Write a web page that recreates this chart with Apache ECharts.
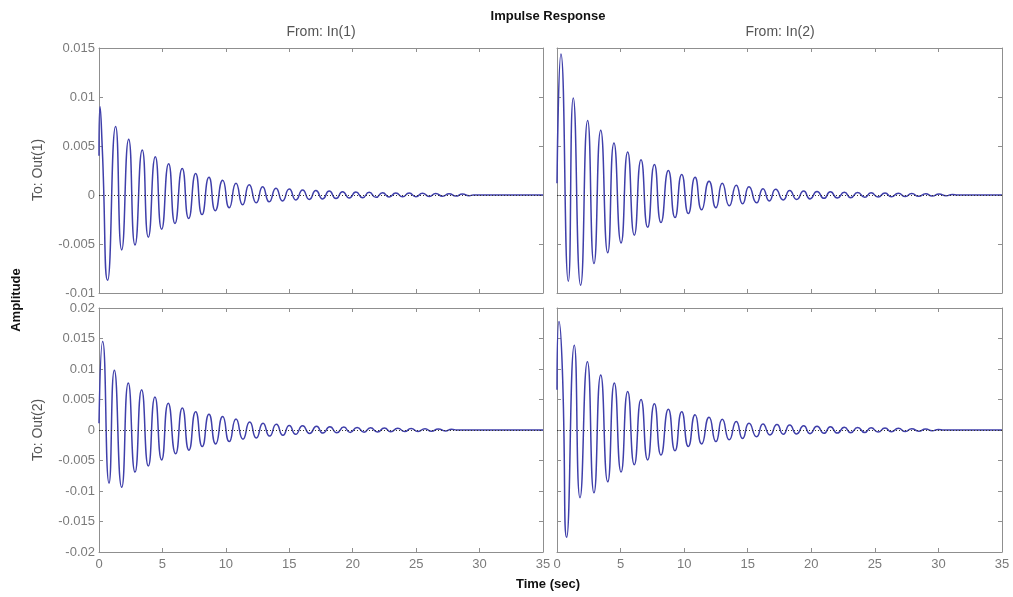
<!DOCTYPE html>
<html>
<head>
<meta charset="utf-8">
<script src="https://cdn.jsdelivr.net/npm/echarts@6/dist/echarts.min.js"></script>
<style>html,body{margin:0;padding:0;background:#fff;}#c{width:1013px;height:597px;}</style>
</head>
<body>
<div id="c"></div>
<script>
// Extrema: [time (sec), amplitude]
const in1out1 = [[0,0.0040],[0.08,0.0090],[0.26,0.0047],[0.68,-0.0087],[1.31,0.0070],[1.79,-0.0056],[2.34,0.0057],[2.84,-0.0051],[3.41,0.0046],[3.89,-0.0043],[4.44,0.0039],[4.94,-0.0035],[5.49,0.0032],[5.99,-0.0029],[6.56,0.0027],[7.07,-0.0024],[7.62,0.0022],[8.12,-0.0020],[8.67,0.0018],[9.17,-0.0016],[9.75,0.0015],[10.27,-0.0013],[10.8,0.0012],[11.32,-0.0010],[11.84,0.00105],[12.4,-0.0008],[12.9,0.00085],[13.42,-0.0007],[13.95,0.0007],[14.47,-0.0006],[15.0,0.0006],[15.52,-0.0005],[16.05,0.00052],[16.58,-0.00045],[17.1,0.00045],[17.63,-0.0004],[18.15,0.0004],[18.68,-0.00036],[19.2,0.00034],[19.73,-0.0003],[20.25,0.0003],[20.78,-0.00027],[21.3,0.00028],[21.83,-0.00024],[22.35,0.00024],[22.88,-0.0002],[23.4,0.00021],[23.93,-0.00018],[24.45,0.0002],[24.98,-0.00017],[25.5,0.00018],[26.03,-0.00015],[26.55,0.00015],[27.08,-0.00013],[27.6,0.00013],[28.13,-0.00011],[28.65,0.0001],[29.18,-0.00008],[29.5,0],[35,0]];
const in2out1 = [[0,0.0012],[0.31,0.0144],[0.89,-0.0088],[1.28,0.0099],[1.86,-0.0092],[2.41,0.0076],[2.91,-0.0070],[3.44,0.0066],[3.99,-0.0059],[4.48,0.0053],[5.04,-0.0049],[5.56,0.0044],[6.08,-0.0041],[6.61,0.0036],[7.13,-0.0033],[7.66,0.0031],[8.18,-0.0028],[8.76,0.0025],[9.28,-0.0023],[9.81,0.0021],[10.33,-0.0019],[10.86,0.0018],[11.38,-0.0015],[11.96,0.0014],[12.5,-0.0013],[13.0,0.0012],[13.55,-0.0011],[14.1,0.0010],[14.6,-0.0009],[15.1,0.00085],[15.7,-0.0008],[16.2,0.00065],[16.7,-0.0006],[17.2,0.00058],[17.8,-0.0005],[18.3,0.00045],[18.85,-0.00045],[19.4,0.0004],[19.9,-0.0004],[20.45,0.00036],[21.0,-0.00034],[21.5,0.00032],[22.05,-0.0003],[22.6,0.00028],[23.1,-0.00027],[23.65,0.00025],[24.2,-0.00024],[24.7,0.00022],[25.25,-0.0002],[25.8,0.0002],[26.3,-0.00019],[26.85,0.00018],[27.4,-0.00016],[27.9,0.00015],[28.45,-0.00014],[29.0,0.00013],[29.5,-0.00011],[30.05,0.0001],[30.6,-0.00008],[31.1,0.00006],[31.5,0],[35,0]];
const in1out2 = [[0,0.0011],[0.29,0.0145],[0.79,-0.0087],[1.21,0.0098],[1.79,-0.0094],[2.31,0.0077],[2.84,-0.0069],[3.36,0.0066],[3.89,-0.0059],[4.41,0.0054],[4.94,-0.0049],[5.46,0.0044],[6.04,-0.0039],[6.57,0.0036],[7.09,-0.0033],[7.62,0.0030],[8.14,-0.0027],[8.67,0.0026],[9.2,-0.0023],[9.75,0.0022],[10.27,-0.0019],[10.8,0.0018],[11.35,-0.0015],[11.88,0.0013],[12.4,-0.0013],[12.93,0.0011],[13.45,-0.0010],[13.98,0.00093],[14.5,-0.00087],[15.0,0.00075],[15.5,-0.0007],[16.05,0.0007],[16.6,-0.00056],[17.15,0.0006],[17.65,-0.0005],[18.2,0.00052],[18.75,-0.00045],[19.3,0.00048],[19.8,-0.0004],[20.35,0.00042],[20.9,-0.00036],[21.4,0.00037],[21.95,-0.00032],[22.5,0.00033],[23.0,-0.00029],[23.55,0.0003],[24.1,-0.00026],[24.6,0.00026],[25.15,-0.00023],[25.7,0.00022],[26.2,-0.0002],[26.75,0.00018],[27.3,-0.00015],[27.8,0.00012],[28.2,0],[35,0]];
const in2out2 = [[0,0.0066],[0.16,0.0178],[0.42,0.0100],[0.76,-0.0176],[1.36,0.0139],[1.81,-0.0111],[2.39,0.0112],[2.91,-0.0103],[3.44,0.0090],[3.99,-0.0085],[4.51,0.0077],[5.04,-0.0069],[5.56,0.0063],[6.08,-0.0057],[6.61,0.0050],[7.13,-0.0049],[7.66,0.0043],[8.18,-0.0041],[8.76,0.0034],[9.28,-0.0034],[9.81,0.0030],[10.33,-0.0027],[10.86,0.0025],[11.38,-0.0023],[11.96,0.0021],[12.5,-0.0019],[13.0,0.00175],[13.55,-0.0016],[14.1,0.0014],[14.6,-0.0014],[15.1,0.0011],[15.7,-0.0011],[16.2,0.0010],[16.75,-0.0008],[17.3,0.0009],[17.8,-0.0007],[18.3,0.0008],[18.85,-0.00065],[19.4,0.0007],[19.9,-0.0006],[20.45,0.0006],[21.0,-0.00055],[21.5,0.00052],[22.05,-0.0005],[22.6,0.00046],[23.1,-0.00044],[23.65,0.0004],[24.2,-0.0004],[24.7,0.00036],[25.25,-0.00034],[25.8,0.00032],[26.3,-0.0003],[26.85,0.00028],[27.4,-0.00025],[27.9,0.00022],[28.45,-0.0002],[29.0,0.00016],[29.5,-0.00013],[30.0,0.0001],[30.4,0],[35,0]];

const xRange = {min: 0, max: 35, interval: 5};
const yTop = {min: -0.01, max: 0.015, interval: 0.005};
const yBottom = {min: -0.02, max: 0.02, interval: 0.005};
const panelData = [in1out1, in2out1, in1out2, in2out2];

const FONT = 'Liberation Sans, Arial, sans-serif';
const frame = '#8f8f8f';
const labelColor = '#7a7a7a';

const grids = [
  {left: 99, top: 48, width: 444, height: 245},
  {left: 557, top: 48, width: 445, height: 245},
  {left: 99, top: 308, width: 444, height: 244},
  {left: 557, top: 308, width: 445, height: 244}
];

const xAxes = [], yAxes = [], series = [];
grids.forEach((g, i) => {
  const bottomRow = i >= 2, leftCol = i % 2 === 0;
  const yr = bottomRow ? yBottom : yTop;
  const base = {
    type: 'value', gridIndex: i, splitLine: {show: false},
    axisLine: {show: true, onZero: false, lineStyle: {color: frame, width: 1}},
    axisTick: {show: true, inside: true, length: 4, lineStyle: {color: frame}}
  };
  xAxes.push(Object.assign({}, base, xRange, {position: 'bottom',
    axisLabel: {show: bottomRow, color: labelColor, fontFamily: FONT, fontSize: 13, margin: 6}}));
  xAxes.push(Object.assign({}, base, xRange, {position: 'top', axisLabel: {show: false}}));
  yAxes.push(Object.assign({}, base, yr, {position: 'left',
    axisLabel: {show: leftCol, color: labelColor, fontFamily: FONT, fontSize: 13, margin: 4}}));
  yAxes.push(Object.assign({}, base, yr, {position: 'right', axisLabel: {show: false}}));
  series.push({
    type: 'line', xAxisIndex: 2 * i, yAxisIndex: 2 * i,
    data: panelData[i], showSymbol: false, smooth: 0.6, animation: false,
    lineStyle: {color: '#3f3faa', width: 1.5},
    markLine: {silent: true, symbol: ['none', 'none'], label: {show: false},
      lineStyle: {color: '#333', type: [1, 2], width: 1}, data: [{yAxis: 0}], animation: false}
  });
});

const txt = (t, x, y, opts) => Object.assign({
  type: 'text', x: x, y: y,
  style: {text: t, font: (opts && opts.font) || ('14px ' + FONT), fill: (opts && opts.fill) || '#555',
    textAlign: 'center', textVerticalAlign: 'middle'}
}, opts && opts.rot ? {rotation: Math.PI / 2} : {});

const chart = echarts.init(document.getElementById('c'), null, {renderer: 'canvas'});
chart.setOption({
  backgroundColor: '#fff',
  animation: false,
  grid: grids,
  xAxis: xAxes,
  yAxis: yAxes,
  series: series,
  graphic: [
    txt('Impulse Response', 548, 16, {font: 'bold 13px ' + FONT, fill: '#111'}),
    txt('From: In(1)', 321, 32),
    txt('From: In(2)', 780, 32),
    txt('To: Out(1)', 38, 170, {rot: true}),
    txt('To: Out(2)', 38, 430, {rot: true}),
    txt('Amplitude', 16, 300, {font: 'bold 13px ' + FONT, fill: '#111', rot: true}),
    txt('Time (sec)', 548, 584, {font: 'bold 13px ' + FONT, fill: '#111'})
  ]
});
</script>
</body>
</html>
